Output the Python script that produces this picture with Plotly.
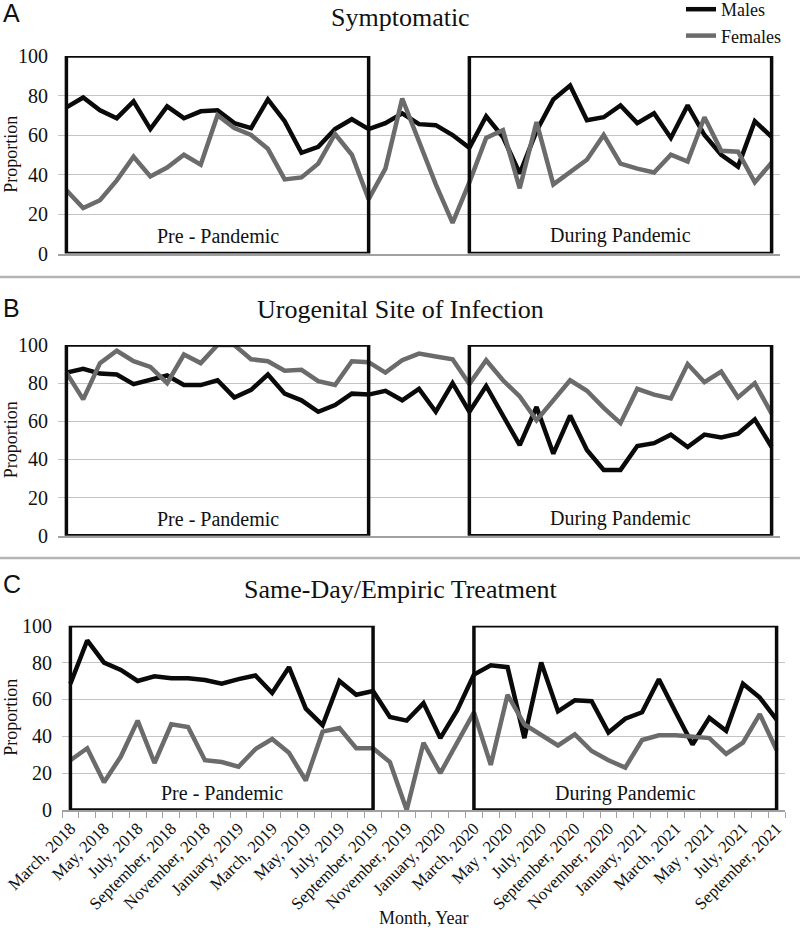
import plotly.graph_objects as go

month_names = ["January", "February", "March", "April", "May", "June", "July",
               "August", "September", "October", "November", "December"]
months = []
for k in range(43):
    m = (2 + k) % 12
    y = 2018 + (2 + k) // 12
    sep = " , " if (month_names[m] == "May" and y >= 2020) else ", "
    months.append(f"{month_names[m]}{sep}{y}")

tick_text = [months[i] if i % 2 == 0 else "" for i in range(43)]

symp_males = [74, 79, 72.5, 68.5, 77, 63, 74.5, 68.5, 72, 72.5, 66, 63.5, 78, 67, 51, 54, 63, 68, 63, 66,
              71, 65.5, 65, 60, 53.5, 69.5, 59, 40.5, 62, 78, 85, 67.5, 69, 75, 66, 71, 58.5, 75, 60, 50, 44, 67, 59]
symp_females = [32, 23, 27, 37, 49, 39, 43.5, 50, 45, 70, 63.5, 60, 53, 37.5, 38.5, 45.5, 60.5, 50, 27.5, 43,
                78.5, 57, 35, 15.5, 36, 58.5, 62.5, 33, 66.5, 35, 41, 47.5, 60, 45.5, 43, 41, 50, 46.5, 69, 52, 51.5, 36, 46]

uro_males = [85.5, 87.5, 85, 84.5, 79.5, 82, 84, 79, 79, 81.5, 72.5, 76.5, 84.5, 74.5, 71, 65, 68.5, 74.5, 74, 76,
             71, 77, 65, 80, 65, 78.5, 63.5, 47.5, 67.5, 43, 63, 45, 34.5, 34.5, 47, 48.5, 53, 46.5, 53, 51.5, 53.5, 61, 46.5]
uro_females = [85.5, 71.5, 90.5, 97, 91.5, 88.5, 80, 95, 90.5, 100, 100, 92.5, 91.5, 86.5, 87, 81, 79, 91.5, 91, 85.5,
               92, 95.5, 94, 92.5, 79.5, 92, 81.5, 73, 60.5, 71, 81.5, 76, 67, 59, 77, 74, 72, 90, 80.5, 86, 72.5, 80, 64]

sd_males = [68.5, 92, 80, 76, 70, 72.5, 71.5, 71.5, 70.5, 68.5, 71, 73, 63.5, 77.5, 55, 46, 70, 62.5, 64.5, 50.5,
            48.5, 58, 39, 54, 73.5, 78.5, 77.5, 39, 80, 53.5, 59.5, 59, 42, 49.5, 53, 71, 53, 35.5, 50, 43, 68.5, 61, 49]
sd_females = [27, 33.5, 15, 29, 48.5, 25.5, 46.5, 45, 27, 26, 23.5, 33, 38.5, 31, 16, 42.5, 44.5, 33.5, 33.5, 26,
              0, 36.5, 20, 37, 53, 24.5, 62.5, 46.5, 40.5, 35, 41, 32, 27, 23, 38, 40.5, 40.5, 40, 39, 30.5, 36.5, 52, 32.5]

panels = [
    ("Symptomatic", "A", symp_males, symp_females),
    ("Urogenital Site of Infection", "B", uro_males, uro_females),
    ("Same-Day/Empiric Treatment", "C", sd_males, sd_females),
]

pre_start, pre_end = 0, 18
dur_start, dur_end = 24, 42

W, H = 800, 935
geom = [
    dict(top=56, bot=253.5, left=58, right=780),
    dict(top=345, bot=535.7, left=58, right=780),
    dict(top=625.7, bot=810, left=62, right=785),
]
title_y = [17, 309, 589]
letter_y = [13, 308, 584]

serif = "Liberation Serif"
BLACK = "#0a0a0a"
GRAY = "#6b6b6b"

fig = go.Figure()
shapes = []
annotations = []

for p, (title, letter, males, females) in enumerate(panels):
    g = geom[p]
    sfx = "" if p == 0 else str(p + 1)
    xa = "x" + sfx
    ya = "y" + sfx
    fig.add_trace(go.Scatter(x=months, y=males, mode="lines", name="Males",
                             line=dict(color=BLACK, width=4.5), xaxis=xa, yaxis=ya,
                             showlegend=(p == 0), legendgroup="m"))
    fig.add_trace(go.Scatter(x=months, y=females, mode="lines", name="Females",
                             line=dict(color=GRAY, width=4.5), xaxis=xa, yaxis=ya,
                             showlegend=(p == 0), legendgroup="f"))
    xdom = [g["left"] / W, g["right"] / W]
    ydom = [1 - g["bot"] / H, 1 - g["top"] / H]
    xaxis = dict(domain=xdom, anchor=ya, type="category", range=[-0.5, 42.5], automargin=False,
                 showgrid=False, zeroline=False, showline=True, linecolor="#a0a0a0", linewidth=1.5,
                 tickvals=months, ticktext=tick_text if p == 2 else [""] * 43,
                 showticklabels=(p == 2), ticks="outside" if p == 2 else "",
                 tickson="boundaries", ticklen=6, tickcolor="#a0a0a0", tickwidth=1,
                 tickangle=-45, tickfont=dict(family=serif, size=17, color="#111"))
    yaxis = dict(domain=ydom, anchor=xa, range=[0, 100], dtick=20, tick0=0, automargin=False,
                 showgrid=True, gridcolor="#c4c4c4", gridwidth=1, zeroline=False,
                 showline=False, ticks="", ticklabelstandoff=9,
                 tickfont=dict(family=serif, size=20, color="#111"))
    fig.layout["xaxis" + sfx] = xaxis
    fig.layout["yaxis" + sfx] = yaxis

    annotations.append(dict(xref="paper", yref="paper", x=11 / W,
                            y=1 - (g["top"] + g["bot"]) / 2 / H, text="Proportion", textangle=-90,
                            showarrow=False, xanchor="center", yanchor="middle",
                            font=dict(family=serif, size=18, color="#111")))

    for (a, b, label) in [(pre_start, pre_end, "Pre - Pandemic"), (dur_start, dur_end, "During Pandemic")]:
        shapes.append(dict(type="rect", xref=xa, yref=ya, x0=a, x1=b, y0=0, y1=100,
                           line=dict(color=BLACK, width=3.5), fillcolor="rgba(0,0,0,0)", layer="above"))
        annotations.append(dict(xref=xa, yref=ya, x=(a + b) / 2, y=9, text=label, showarrow=False,
                                font=dict(family=serif, size=20, color="#111"), yanchor="middle"))

    annotations.append(dict(xref="paper", yref="paper", x=0.5, y=1 - title_y[p] / H, text=title,
                            showarrow=False, xanchor="center", yanchor="middle",
                            font=dict(family=serif, size=26, color="#111")))
    annotations.append(dict(xref="paper", yref="paper", x=1 / W, y=1 - letter_y[p] / H, text=letter,
                            showarrow=False, xanchor="left", yanchor="middle",
                            font=dict(family="Liberation Sans", size=25, color="#111")))

for sy in [277, 558]:
    shapes.append(dict(type="line", xref="paper", yref="paper", x0=0, x1=1, y0=1 - sy / H, y1=1 - sy / H,
                       line=dict(color="#b4b4b4", width=2.5)))

annotations.append(dict(xref="paper", yref="paper", x=424 / W, y=1 - 918 / H, text="Month, Year",
                        showarrow=False, xanchor="center", yanchor="middle",
                        font=dict(family=serif, size=18, color="#111")))

fig.update_layout(
    width=W, height=H, margin=dict(l=0, r=0, t=0, b=0, autoexpand=False),
    paper_bgcolor="white", plot_bgcolor="white",
    shapes=shapes, annotations=annotations,
    legend=dict(x=681 / W, y=1 + 9 / H, xanchor="left", yanchor="top", orientation="v",
                font=dict(family=serif, size=18, color="#111"), tracegroupgap=0,
                bgcolor="rgba(0,0,0,0)", itemwidth=30),
    showlegend=True,
)

fig.write_html("out.html", config={"displayModeBar": False},
               post_script="document.body.style.margin='0';document.body.style.padding='0';")
